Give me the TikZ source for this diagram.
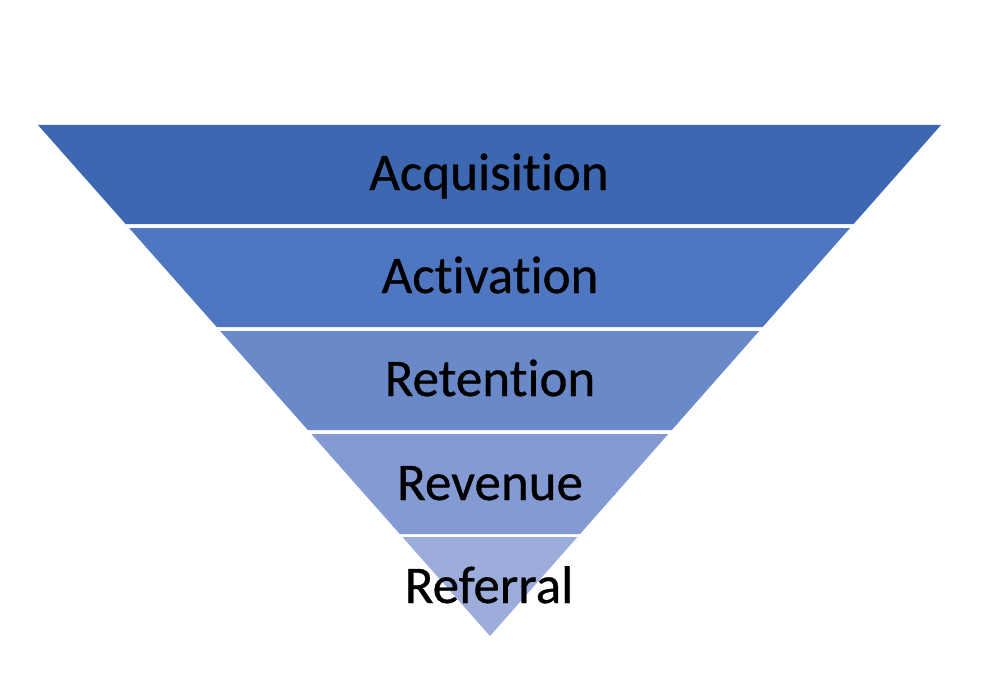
\documentclass[tikz,border=0pt]{standalone}
\usepackage{fontspec}
\setmainfont{Carlito}
\newfontfamily\lblfont{Carlito}[FakeBold=0.6,Ligatures=NoCommon]
\definecolor{bandA}{RGB}{61,103,176}
\definecolor{bandB}{RGB}{79,118,192}
\definecolor{bandC}{RGB}{106,137,200}
\definecolor{bandD}{RGB}{132,154,210}
\definecolor{bandE}{RGB}{157,173,219}
\begin{document}
\begin{tikzpicture}[x=1pt,y=-1pt,
  lbl/.style={font=\lblfont\fontsize{53}{60}\selectfont, text=black, inner sep=0pt, anchor=base}]
\useasboundingbox (0,0) rectangle (982,690);
\fill[white] (0,0) rectangle (982,690);
\fill[bandA] (38,125) -- (941,125) -- (853.6,224) -- (125.6,224) -- cycle;
\fill[bandB] (129.1,228) -- (850.1,228) -- (762.7,327) -- (216.7,327) -- cycle;
\fill[bandC] (220.2,331) -- (759.2,331) -- (671.8,430) -- (307.8,430) -- cycle;
\fill[bandD] (311.3,434) -- (668.3,434) -- (580.0,534) -- (399.8,534) -- cycle;
\fill[bandE] (402.4,537) -- (577.4,537) -- (490,636) -- cycle;
\node[lbl] (acq) at (489,190) {Acquisition};
\node[lbl] (act) at (490,293) {Activation};
\node[lbl] (ret) at (490,396) {Retention};
\node[lbl] (rev) at (490,500) {Revenue};
\node[lbl] (ref) at (489,603) {Referral};
\end{tikzpicture}
\end{document}
